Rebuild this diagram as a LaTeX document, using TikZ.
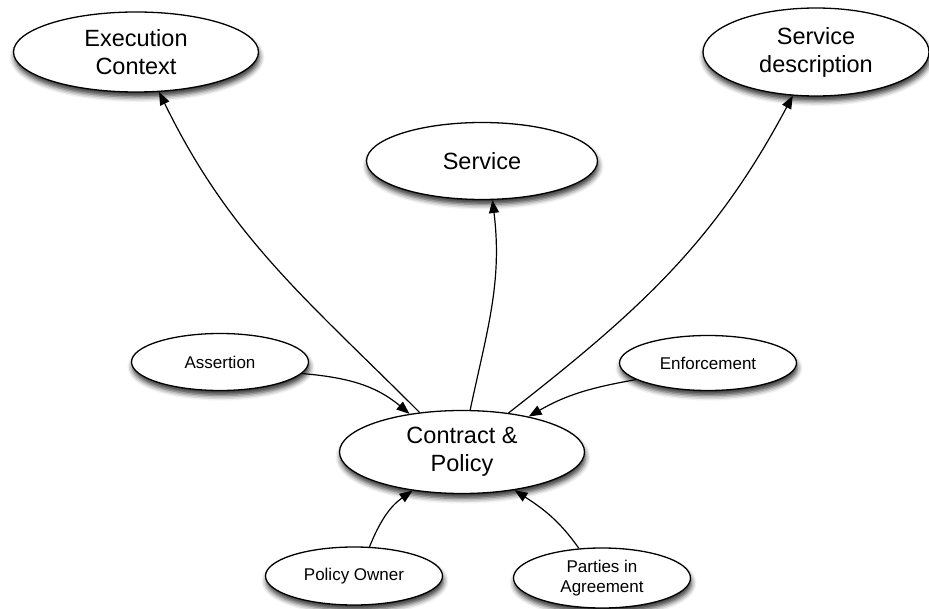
\documentclass[tikz,border=0pt]{standalone}
\usepackage{fontspec}
\setmainfont{Liberation Sans}
\usetikzlibrary{shapes.geometric,arrows.meta,shadows.blur}
\tikzset{
  bubble/.style={ellipse, draw=black, line width=1.3pt, fill=white, inner sep=0pt, align=center,
    blur shadow={shadow xshift=1pt, shadow yshift=-5pt, shadow blur radius=5pt, shadow opacity=80}},
  bigbubble/.style={bubble, font=\fontsize{23.5}{28}\selectfont},
  smallbubble/.style={bubble, minimum width=177pt, minimum height=57pt, font=\fontsize{17}{20}\selectfont},
  link/.style={line width=1.2pt, -{Triangle[length=13pt,width=10pt]}}
}
\begin{document}
\begin{tikzpicture}[x=1pt,y=1pt]
\useasboundingbox (0,0) rectangle (929,-609);
\node[bigbubble, minimum width=245pt, minimum height=80pt] (ec) at (136,-52) {Execution\\Context};
\node[bigbubble, minimum width=226pt, minimum height=88pt] (sd) at (816,-52) {Service\\description};
\node[bigbubble, minimum width=231pt, minimum height=77pt] (sv) at (482,-161) {Service};
\node[bigbubble, minimum width=245pt, minimum height=83pt] (cp) at (462,-452) {Contract \&\\Policy};
\node[smallbubble] (as) at (220,-362) {Assertion};
\node[smallbubble, minimum height=55pt] (en) at (708,-363) {Enforcement};
\node[smallbubble, minimum height=58pt] (po) at (354,-576) {Policy Owner};
\node[smallbubble, minimum height=60pt] (pa) at (602,-578) {Parties in\\Agreement};

\draw[link] (cp.137) to[out=135, in=-64] (ec.-60);
\draw[link] (cp.79) to[out=78, in=-83] (sv.-75);
\draw[link] (cp.40) to[out=38, in=-118] (sd.-118);
\draw[link] (as.-8) to[out=-5, in=140] (cp.144);
\draw[link] (en.193) to[out=190, in=30] (cp.28);
\draw[link] (po.62) to[out=68, in=215] (cp.218);
\draw[link] (pa.128) to[out=125, in=-33] (cp.-36);
\end{tikzpicture}
\end{document}
